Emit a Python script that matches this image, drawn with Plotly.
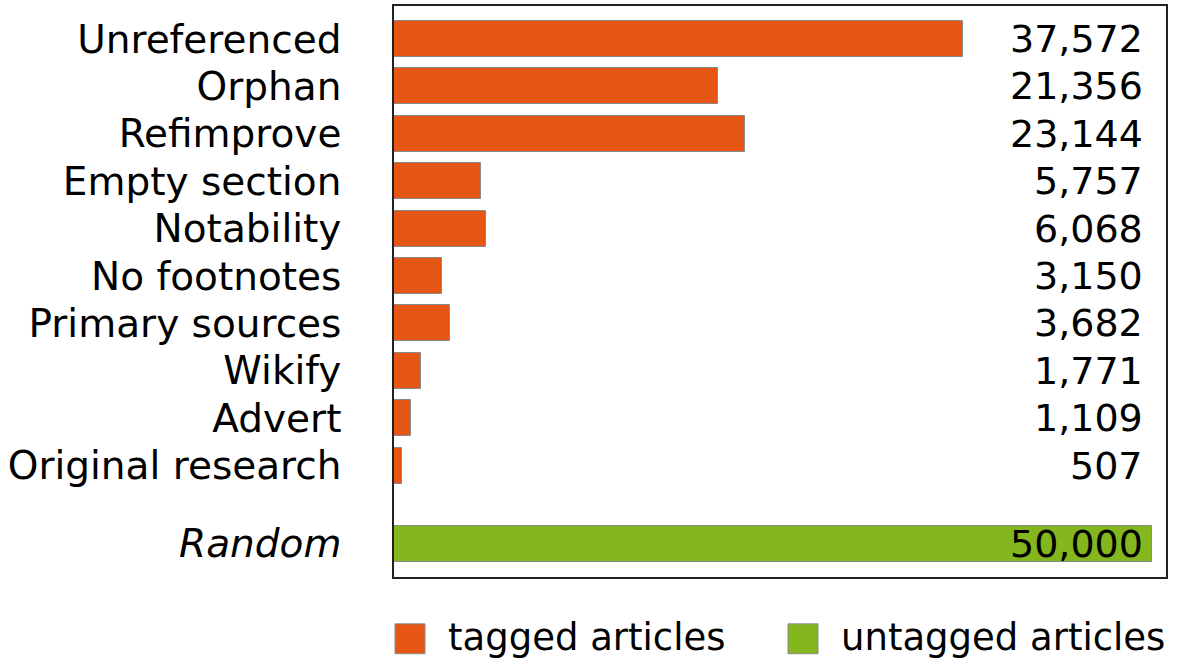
import plotly.graph_objects as go

categories = ["Unreferenced", "Orphan", "Refimprove", "Empty section", "Notability",
              "No footnotes", "Primary sources", "Wikify", "Advert", "Original research"]
tagged_values = [37572, 21356, 23144, 5757, 6068, 3150, 3682, 1771, 1109, 507]
random_label = "Random"
random_value = 50000
legend_names = ["tagged articles", "untagged articles"]

ORANGE = "#E65614"
GREEN = "#84B61D"
FONT = "DejaVu Sans"
FS = 38

W, H = 1180, 665
ML, MR, MT, MB = 394, 14, 4, 88
PW, PH = W - ML - MR, H - MT - MB

def px_x(x):
    return (x - ML) / PW

def px_y(y):
    return 1 - (y - MT) / PH

pos_tagged = list(range(len(categories)))
pos_random = len(categories) + 0.65

fig = go.Figure()
fig.add_trace(go.Bar(
    x=tagged_values, y=pos_tagged, orientation="h", width=0.76,
    marker=dict(color=ORANGE, line=dict(color="#8a8a8a", width=1)),
    name=legend_names[0], showlegend=False, hoverinfo="x",
))
fig.add_trace(go.Bar(
    x=[random_value], y=[pos_random], orientation="h", width=0.76,
    marker=dict(color=GREEN, line=dict(color="#8a8a8a", width=1)),
    name=legend_names[1], showlegend=False, hoverinfo="x",
))

annotations = []
for p, v in zip(pos_tagged + [pos_random], tagged_values + [random_value]):
    annotations.append(dict(
        x=px_x(1145), xref="paper", y=p, yref="y", text=f"{v:,}",
        showarrow=False, xanchor="right", yanchor="middle",
        font=dict(family=FONT, size=FS, color="black"),
    ))

# manual legend
shapes = []
legend_items = [(395, ORANGE, legend_names[0]), (788, GREEN, legend_names[1])]
for x0, col, name in legend_items:
    shapes.append(dict(
        type="rect", xref="paper", yref="paper",
        x0=px_x(x0), x1=px_x(x0 + 30), y0=px_y(654), y1=px_y(624),
        fillcolor=col, line=dict(color="#8a8a8a", width=1),
    ))
    annotations.append(dict(
        x=px_x(x0 + 51), xref="paper", y=px_y(638), yref="paper", text=name,
        showarrow=False, xanchor="left", yanchor="middle",
        font=dict(family=FONT, size=FS - 1, color="black"),
    ))

fig.update_layout(
    width=W, height=H,
    margin=dict(l=ML, r=MR, t=MT, b=MB),
    paper_bgcolor="white", plot_bgcolor="white",
    showlegend=False, bargap=0,
    font=dict(family=FONT, size=FS, color="black"),
    annotations=annotations, shapes=shapes,
    xaxis=dict(range=[0, 50944], showgrid=False, zeroline=False,
               showticklabels=False, ticks="",
               showline=True, linecolor="#222222", linewidth=1.5, mirror=True),
    yaxis=dict(range=[11.35, -0.694], showgrid=False, zeroline=False,
               tickmode="array", tickvals=pos_tagged + [pos_random],
               ticktext=categories + [f"<i>{random_label}</i>"],
               ticks="", ticklabelstandoff=43,
               tickfont=dict(family=FONT, size=39, color="black"),
               showline=True, linecolor="#222222", linewidth=1.5, mirror=True),
)

fig.write_html("out.html")
